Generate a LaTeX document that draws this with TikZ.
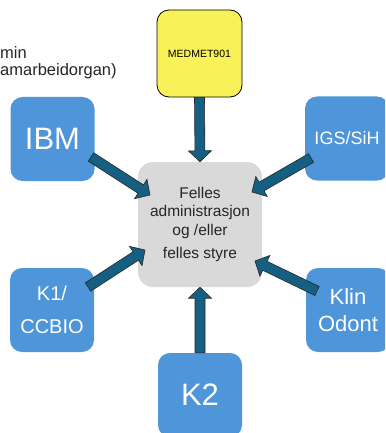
\documentclass[tikz,border=0pt]{standalone}
\usepackage{fontspec}
\setmainfont{Liberation Sans}
\usetikzlibrary{calc}
\definecolor{boxblue}{HTML}{4E95D9}
\definecolor{arrowblue}{HTML}{156082}
\definecolor{medyellow}{RGB}{248,242,88}
\definecolor{centergray}{HTML}{D9D9D9}
\tikzset{
  unitbox/.style={fill=boxblue, rounded corners=12pt, minimum width=84pt, minimum height=84pt, text=white, align=center, inner sep=0pt},
  medbox/.style={fill=medyellow, draw=black, line width=0.8pt, rounded corners=12pt, minimum width=85pt, minimum height=87pt, inner sep=0pt, font=\fontsize{10.5}{12}\selectfont},
  hubbox/.style={fill=centergray, rounded corners=15pt, minimum width=124pt, minimum height=125pt, inner sep=0pt, align=center, text=black!85, font=\fontsize{15.5}{18.5}\selectfont},
  blockarrow/.style={fill=arrowblue, draw=black!85, line width=0.6pt, line join=miter},
  labeltext/.style={anchor=base west, inner sep=0pt, text=black!85, font=\fontsize{16.5}{18}\selectfont},
}
\newcommand\blockarrowpath[2]{%
  \coordinate (hb) at ($(#2)!11pt!(#1)$);
  \draw[blockarrow] ($(#1)!5pt!90:(#2)$) -- ($(hb)!5pt!-90:(#1)$) -- ($(hb)!11.5pt!-90:(#1)$) -- (#2) -- ($(hb)!11.5pt!90:(#1)$) -- ($(hb)!5pt!90:(#1)$) -- ($(#1)!5pt!-90:(#2)$) -- cycle;}
\begin{document}
\begin{tikzpicture}[x=1pt,y=-1pt]
\useasboundingbox (0,0) rectangle (385,433);
\clip (0,0) rectangle (385,433);
\fill[white] (0,0) rectangle (385,433);

\node[labeltext] (adm1) at (0,59) {min};
\node[labeltext] (adm2) at (0,76) {amarbeidorgan)};

\node[medbox] (med) at (199.5,53.5) {MEDMET901};
\node[unitbox, font=\fontsize{31}{33}\selectfont] (ibm) at (52.5,139) {IBM};
\node[unitbox, font=\fontsize{18}{20}\selectfont] (igs) at (347,138.5) {IGS/SiH};
\node[unitbox, font=\fontsize{20}{33}\selectfont] (k1) at (52,310) {K1/\\CCBIO};
\node[unitbox, font=\fontsize{22}{27}\selectfont] (klin) at (348,310) {Klin\\Odont};
\node[unitbox, font=\fontsize{31}{33}\selectfont] (k2) at (200,395) {K2};
\node[hubbox] (hub) at (200,224.5) {Felles\\administrasjon\\og /eller\\[5pt]felles styre};

\coordinate (igsS) at (311,158);
\coordinate (igsT) at (252,192);
\coordinate (ibmS) at (91,157);
\coordinate (ibmT) at (150,195);
\coordinate (k1S) at (88,287);
\coordinate (k1T) at (145,250);
\coordinate (klinS) at (317,291);
\coordinate (klinT) at (255,261);

\blockarrowpath{med.south}{hub.north}
\blockarrowpath{igsS}{igsT}
\blockarrowpath{ibmS}{ibmT}
\blockarrowpath{k1S}{k1T}
\blockarrowpath{klinS}{klinT}
\blockarrowpath{k2.north}{hub.south}
\end{tikzpicture}
\end{document}
